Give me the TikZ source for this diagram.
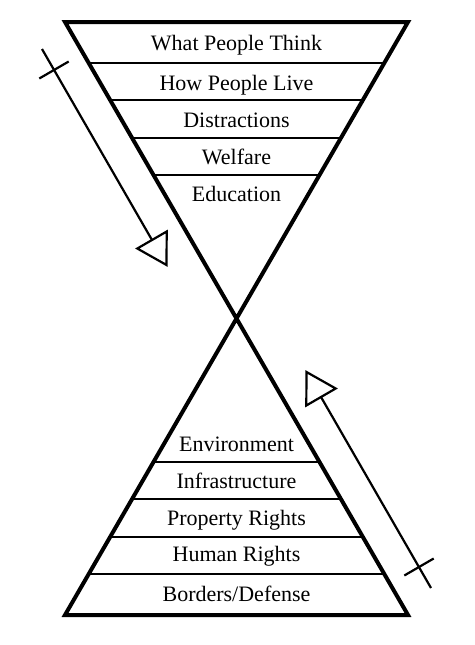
\documentclass[tikz,border=0pt]{standalone}
\usepackage{fontspec}
\setmainfont{Liberation Serif}
\usetikzlibrary{calc}
\begin{document}
\begin{tikzpicture}[x=1pt,y=-1pt,
  tri/.style={line width=4pt,line join=miter},
  band/.style={line width=2.2pt},
  bandtext/.style={font=\fontsize{22}{26}\selectfont,inner sep=0pt,anchor=base},
  flow/.style={line width=2.2pt},
  headtri/.style={line width=2.2pt,line join=miter}]
\useasboundingbox (0,0) rectangle (474,645);
% hourglass
\coordinate (TL) at (65,22);
\coordinate (TR) at (408,22);
\coordinate (C) at (236.5,318.5);
\coordinate (BL) at (65,615);
\coordinate (BR) at (408,615);
\draw[tri] (TL) -- (TR) -- (C) -- cycle;
\draw[tri] (C) -- (BR) -- (BL) -- cycle;
\foreach \f in {0.1383,0.2631,0.3912,0.5160}{
  \draw[band] ($(TL)!\f!(C)$) -- ($(TR)!\f!(C)$);
  \draw[band] ($(BL)!\f!(C)$) -- ($(BR)!\f!(C)$);
}
% texts
\node[bandtext] (t1) at (236.5,50) {What People Think};
\node[bandtext] (t2) at (236.5,90.7) {How People Live};
\node[bandtext] (t3) at (236.5,127.3) {Distractions};
\node[bandtext] (t4) at (236.5,164.3) {Welfare};
\node[bandtext] (t5) at (236.5,201) {Education};
\node[bandtext] (b1) at (236.5,451.7) {Environment};
\node[bandtext] (b2) at (236.5,488.3) {Infrastructure};
\node[bandtext] (b3) at (236.5,525) {Property Rights};
\node[bandtext] (b4) at (236.5,561.7) {Human Rights};
\node[bandtext] (b5) at (236.5,601) {Borders/Defense};
% left arrow
\coordinate (a1s) at (42,49);
\coordinate (a1m) at (152,240);
\coordinate (a1t) at (166.5,265);
\coordinate (a1p) at (166.7,231.5);
\coordinate (a1q) at (137.3,248.5);
\coordinate (a1c) at (68.7,61.5);
\coordinate (a1d) at (39.3,78.5);
\draw[flow] (a1s) -- (a1m);
\draw[headtri] (a1t) -- (a1p) -- (a1q) -- cycle;
\draw[flow] (a1c) -- (a1d);
% right arrow
\coordinate (a2s) at (431,588);
\coordinate (a2m) at (321,397);
\coordinate (a2t) at (306.5,372);
\coordinate (a2p) at (306.3,405.5);
\coordinate (a2q) at (335.7,388.5);
\coordinate (a2c) at (404.3,575.5);
\coordinate (a2d) at (433.7,558.5);
\draw[flow] (a2s) -- (a2m);
\draw[headtri] (a2t) -- (a2p) -- (a2q) -- cycle;
\draw[flow] (a2c) -- (a2d);
\end{tikzpicture}
\end{document}
